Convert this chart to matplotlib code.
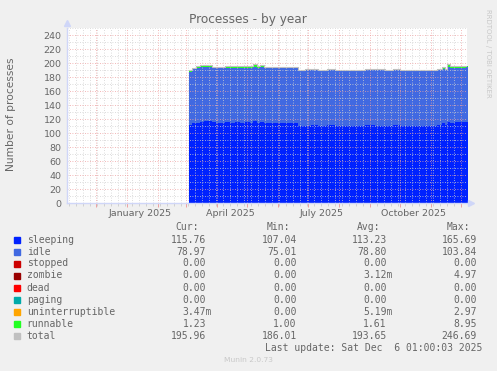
import numpy as np
import matplotlib
matplotlib.use("Agg")
import matplotlib.pyplot as plt
import matplotlib.dates as mdates

# days counted from 2024-11-01, one sample where the graph changes
base = np.datetime64('2024-11-01')
days = [123, 126, 130, 134, 138, 142, 146, 150, 154, 159, 164, 169, 174, 179,
        184, 187, 191, 194, 198, 202, 209, 216, 224, 232, 239, 245, 252, 261,
        269, 279, 289, 299, 309, 319, 327, 334, 344, 354, 364, 371, 376, 379,
        381, 384, 389, 394, 400]
sleeping = [111.5, 114, 115, 116.5, 117, 117.5, 115.5, 115, 115, 115.5, 115, 115.5, 115, 115.5,
            115, 117.5, 115, 116.5, 115, 114.5, 114.5, 114.5, 114.5, 110.5, 110.5, 111.5, 110.5, 111.5,
            110.5, 110.5, 110.5, 111.5, 110.5, 110.5, 112.0, 110.5, 110.5, 110.5, 110.5, 111.0, 114.0, 111.0,
            116.5, 115.0, 115.5, 115.5, 116.0]
idle = [76.0, 77.0, 78.0, 77.5, 77.5, 76.5, 77.0, 77.5, 78.0, 78.0, 78.5, 78.0, 78.5, 78.0,
        78.5, 77.5, 78.5, 77.5, 78.5, 78.5, 78.5, 78.5, 78.5, 79.0, 79.0, 78.5, 79.0, 78.5,
        79.0, 79.0, 79.0, 78.5, 79.0, 79.0, 78.0, 79.0, 79.0, 79.0, 79.0, 78.5, 78.0, 79.0,
        78.5, 78.5, 78.0, 78.0, 78.5]
runnable = [2.0, 2.5, 3.0, 3.5, 3.0, 3.0, 2.0, 1.5, 2.0, 2.0, 2.0, 2.0, 2.0, 2.0,
            2.0, 4.0, 2.0, 3.5, 1.5, 1.5, 1.5, 1.5, 1.5, 1.0, 1.5, 1.5, 1.0, 1.5,
            1.0, 1.0, 1.0, 1.5, 1.5, 1.0, 1.5, 1.0, 1.0, 1.0, 1.0, 1.5, 2.0, 1.0,
            4.0, 2.5, 2.0, 2.0, 1.5]
zeros = [0.0] * len(days)

names = ['sleeping', 'idle', 'stopped', 'zombie', 'dead', 'paging',
         'uninterruptible', 'runnable', 'total']
colors = ['#0022ff', '#4169e1', '#cc0000', '#990000', '#ff0000', '#00aaaa',
          '#ffa500', '#22ff22', '#c0c0c0']
cur = [115.76, 78.97, 0, 0, 0, 0, 3.47e-3, 1.23, 195.96]
mins = [107.04, 75.01, 0, 0, 0, 0, 0, 1.00, 186.01]
avgs = [113.23, 78.80, 0, 3.12e-3, 0, 0, 5.19e-3, 1.61, 193.65]
maxs = [165.69, 103.84, 0, 4.97, 0, 0, 2.97, 8.95, 246.69]
month_labels = ['2025-01-15', '2025-04-15', '2025-07-15', '2025-10-15']

W, H = 497, 371
FONT = '#666666'

fig = plt.figure(figsize=(W / 100, H / 100), dpi=100, facecolor='#f0f0f0')
ax = fig.add_axes([67 / W, 1 - 203.3 / H, 400 / W, (203.3 - 28) / H])
ax.set_facecolor('white')

x = base + np.array(days + [days[-1] + 2]).astype('timedelta64[D]')
series = [sleeping, idle, zeros, zeros, zeros, zeros, zeros, runnable]
bottom = np.zeros(len(x))
for vals, c in zip(series, colors[:8]):
    v = np.append(vals, vals[-1])
    ax.fill_between(x, bottom, bottom + v, step='post', color=c, lw=0, zorder=1)
    bottom = bottom + v
ax.plot(x, bottom, drawstyle='steps-post', color=colors[8], lw=0.8, zorder=1.2)

ax.set_xlim(base + np.timedelta64(36, 'h'), base + np.timedelta64(401 * 24 + 12, 'h'))
ax.set_ylim(0, 250)

ax.xaxis.set_major_locator(mdates.MonthLocator())
ax.xaxis.set_minor_locator(mdates.WeekdayLocator(byweekday=mdates.MO))
ax.xaxis.set_major_formatter(plt.NullFormatter())
ax.set_yticks(np.arange(0, 241, 20))
ax.set_yticks(np.arange(10, 251, 20), minor=True)

ax.grid(which='major', color='#eea0a0', ls=(0, (1, 2)), lw=0.6)
ax.grid(which='minor', color='#d0d0d0', ls=(0, (1, 2)), lw=0.6)
ax.tick_params(axis='x', which='major', length=3, color='#eea0a0', width=0.7)
ax.tick_params(axis='x', which='minor', length=2, color='#d0d0d0', width=0.7)
ax.tick_params(axis='y', which='both', length=0, pad=4, labelsize=6.8, labelcolor=FONT)

for s in ['top', 'right']:
    ax.spines[s].set_visible(False)
for s in ['left', 'bottom']:
    ax.spines[s].set_color('#cfd6f8')
    ax.spines[s].set_linewidth(1)
ax.plot([0], [1.03], marker='^', color='#cfd6f8', ms=5, transform=ax.transAxes, clip_on=False)
ax.plot([1.01], [0], marker='>', color='#cfd6f8', ms=5, transform=ax.transAxes, clip_on=False)

# month labels sit mid-month under the quarter starts
for lab in month_labels:
    d = np.datetime64(lab)
    ax.text(mdates.date2num(d), -(213 - 203.3) / (203.3 - 28), d.astype(object).strftime('%B %Y'),
            transform=ax.get_xaxis_transform(), ha='center', va='center', fontsize=6.8, color=FONT)

fig.text(248 / W, 1 - 19 / H, 'Processes - by year', ha='center', va='center', fontsize=8.7, color=FONT)
fig.text(11 / W, 1 - 114 / H, 'Number of processes', rotation=90, ha='center', va='center',
         fontsize=7.7, color=FONT)
fig.text(488 / W, 1 - 53 / H, 'RRDTOOL / TOBI OETIKER', rotation=-90, ha='center', va='center',
         fontsize=5, color='#c8c8c8')


def fmt(v):
    if 0 < v < 1:
        return '%.2fm' % (v * 1000)
    return '%.2f' % v


mono = dict(family='DejaVu Sans Mono', fontsize=7, color=FONT, va='center')
cols = [(206, 199, 'Cur:', cur), (296.7, 290, 'Min:', mins),
        (386.7, 380, 'Avg:', avgs), (476.7, 470, 'Max:', maxs)]
for edge, hedge, head, vals in cols:
    fig.text(hedge / W, 1 - 227.3 / H, head, ha='right', **mono)
rows_y = [240, 251.7, 263.5, 275.5, 287.7, 299.7, 311.7, 323.7, 335.7]
for i, name in enumerate(names):
    y = 1 - rows_y[i] / H
    fig.patches.append(plt.Rectangle((14 / W, y - 3 / H), 6 / W, 6 / H, color=colors[i],
                                     transform=fig.transFigure, figure=fig))
    fig.text(26.7 / W, y, name, ha='left', **mono)
    for edge, hedge, head, vals in cols:
        s = fmt(vals[i])
        xe = edge + 5.9 if s.endswith('m') else edge
        fig.text(xe / W, y, s, ha='right', **mono)

fig.text(482.7 / W, 1 - 347.7 / H, 'Last update: Sat Dec  6 01:00:03 2025', ha='right', **mono)
fig.text(248 / W, 1 - 360 / H, 'Munin 2.0.73', ha='center', va='center', fontsize=5.4, color='#c8c8c8')

fig.savefig('out.png', dpi=100, facecolor=fig.get_facecolor())
